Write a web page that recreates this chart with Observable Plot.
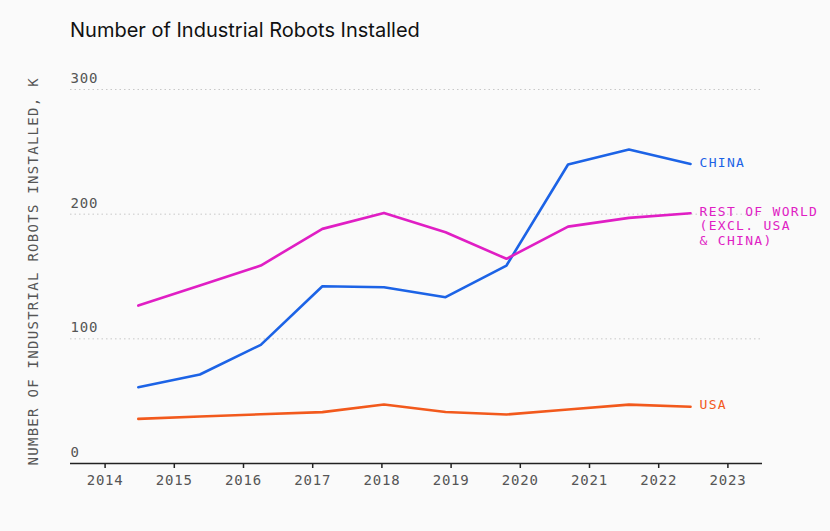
<!DOCTYPE html>
<html>
<head>
<meta charset="utf-8">
<script src="https://cdn.jsdelivr.net/npm/d3@7"></script>
<script src="https://cdn.jsdelivr.net/npm/@observablehq/plot@0.6"></script>
<style>
  html, body { margin: 0; padding: 0; background: #fafafa; }
  #wrap { width: 830px; height: 531px; position: relative; overflow: hidden; }
  #title { position: absolute; left: 70px; top: 18px; font-family: Inter, "Noto Sans", sans-serif; font-size: 20px; color: #111; }
  #chart { position: absolute; left: 0; top: 60px; }
  svg { background: transparent; }
  .ticklbl text, text.ticklbl { letter-spacing: 0.8px; }
  .ylbl text, text.ylbl { letter-spacing: 1.28px; }
  .serieslbl text, text.serieslbl { letter-spacing: 1.3px; }
</style>
</head>
<body>
<div id="wrap">
  <div id="title">Number of Industrial Robots Installed</div>
  <div id="chart"></div>
</div>
<script>
// --- data ---
const xPositions = [2014.48, 2015.37, 2016.25, 2017.14, 2018.03, 2018.92, 2019.8, 2020.69, 2021.57, 2022.46];
const china = [61.2, 71.4, 95.2, 142.2, 141.4, 133.4, 158.8, 239.8, 251.8, 240.3];
const restOfWorld = [126.7, 142.7, 158.8, 188.2, 201, 185.5, 164.2, 190, 197, 200.7];
const usa = [35.8, 37.7, 39.5, 41.2, 47.3, 41.3, 39.3, 43.3, 47.2, 45.5];
const seriesNames = ["CHINA", "REST OF WORLD", "USA"];
const seriesLabels = ["CHINA", "REST OF WORLD\n(EXCL. USA\n& CHINA)", "USA"];
const seriesColors = ["#1c63e6", "#e01ec4", "#f2591c"];
const yTicks = [0, 100, 200, 300];
const gridTicks = [100, 200, 300];
const xTicks = [2014, 2015, 2016, 2017, 2018, 2019, 2020, 2021, 2022, 2023];
const yLabel = "NUMBER OF INDUSTRIAL ROBOTS INSTALLED, K";

const seriesValues = [china, restOfWorld, usa];
const rows = [];
seriesNames.forEach((s, i) => {
  seriesValues[i].forEach((v, j) => rows.push({series: s, x: xPositions[j], y: v}));
});
const lastPoints = seriesNames.map((s, i) => ({
  series: s, label: seriesLabels[i], x: xPositions[xPositions.length - 1], y: seriesValues[i][seriesValues[i].length - 1]
}));

const mono = "'DejaVu Sans Mono', 'Liberation Mono', monospace";

const chart = Plot.plot({
  width: 830,
  height: 471,
  marginLeft: 70,
  marginRight: 68,
  marginTop: 29,
  marginBottom: 68,
  style: {background: "transparent", fontFamily: mono, overflow: "visible"},
  x: {domain: [2013.5, 2023.5]},
  y: {domain: [0, 300], axis: null},
  color: {domain: seriesNames, range: seriesColors},
  marks: [
    Plot.ruleY(gridTicks, {stroke: "#c8c8c8", strokeDasharray: "1.5,3", strokeWidth: 1}),
    Plot.text(yTicks, {x: () => 2013.5, y: d => d, text: d => String(d), textAnchor: "start", dy: -11, fontSize: 14, fill: "#555", fontFamily: mono, className: "ticklbl"}),
    Plot.text([yLabel], {frameAnchor: "left", y: () => 0, text: d => d, rotate: -90, textAnchor: "start", dx: -37, dy: 2, fontSize: 14, fill: "#555", fontFamily: mono, className: "ylbl"}),
    Plot.axisX({ticks: xTicks, tickFormat: d => String(d), tickSize: 5, tickPadding: 7, fontSize: 14, color: "#555", stroke: "#222", strokeWidth: 1.5, label: null, className: "ticklbl"}),
    Plot.ruleY([0], {stroke: "#222", strokeWidth: 1.5}),
    Plot.line(rows, {x: "x", y: "y", z: "series", stroke: "series", strokeWidth: 2.6, strokeLinejoin: "round", strokeLinecap: "round"}),
    Plot.text(lastPoints, {x: "x", y: "y", text: "label", fill: "series", textAnchor: "start", lineAnchor: "top", dx: 9, dy: -7.5, fontSize: 13, lineHeight: 1.1, fontFamily: mono, className: "serieslbl"})
  ]
});
document.getElementById("chart").appendChild(chart);
</script>
</body>
</html>
